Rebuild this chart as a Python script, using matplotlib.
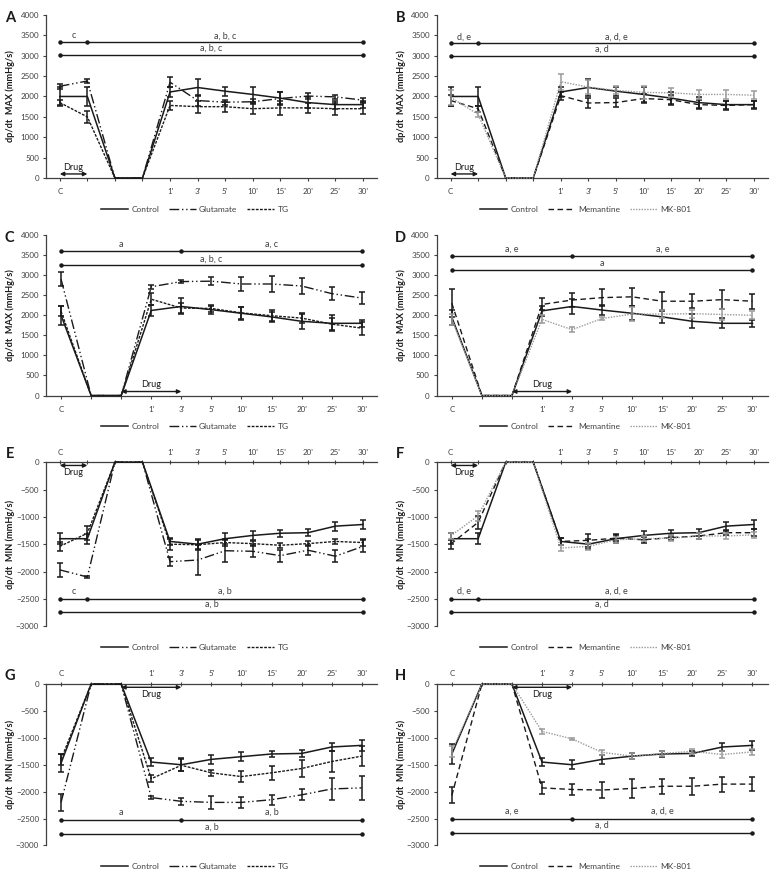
import matplotlib
matplotlib.use("Agg")
import matplotlib.pyplot as plt
import numpy as np

plt.rcParams["font.family"] = ["Lato", "DejaVu Sans"]

INK = "#1a1a1a"
GREY = "#404040"
MK_GREY = "#9a9a9a"

# category labels (long protocol: drug before ischemia, short: drug after)
LABELS_LONG = ["C", "", "", "", "1'", "3'", "5'", "10'", "15'", "20'", "25'", "30'"]
LABELS_SHORT = ["C", "", "", "1'", "3'", "5'", "10'", "15'", "20'", "25'", "30'"]

# ---- panel A : dp/dt MAX, drug before ischemia
A_control = [2000, 2000, 0, 0, 2110, 2220, 2130, 2050, 1960, 1850, 1800, 1800]
A_control_err = [230, 240, 0, 0, 130, 210, 110, 190, 150, 130, 100, 80]
A_glut = [2250, 2380, 0, 0, 2350, 1900, 1860, 1870, 1950, 2010, 1990, 1910]
A_glut_err = [60, 50, 0, 0, 130, 130, 60, 60, 150, 80, 50, 50]
A_tg = [1850, 1500, 0, 0, 1780, 1750, 1750, 1700, 1720, 1720, 1700, 1700]
A_tg_err = [70, 150, 0, 0, 120, 150, 120, 130, 170, 130, 150, 130]

# ---- panel B
B_control = [2000, 2000, 0, 0, 2110, 2220, 2130, 2050, 1960, 1850, 1800, 1800]
B_control_err = [230, 240, 0, 0, 130, 210, 110, 190, 150, 130, 100, 80]
B_mem = [1900, 1700, 0, 0, 2020, 1840, 1850, 1950, 1920, 1800, 1780, 1800]
B_mem_err = [130, 70, 0, 0, 100, 130, 110, 120, 120, 110, 110, 100]
B_mk = [1980, 1560, 0, 0, 2360, 2230, 2150, 2100, 2090, 2050, 2050, 2030]
B_mk_err = [180, 60, 0, 0, 200, 180, 100, 150, 110, 110, 110, 100]

# ---- panel C : dp/dt MAX, drug after ischemia
C_control = [2000, 0, 0, 2120, 2220, 2140, 2050, 1960, 1850, 1800, 1800]
C_control_err = [230, 0, 0, 130, 200, 100, 160, 130, 180, 200, 80]
C_glut = [2900, 0, 0, 2710, 2840, 2850, 2780, 2780, 2730, 2540, 2430]
C_glut_err = [170, 0, 0, 50, 40, 100, 170, 200, 190, 170, 150]
C_tg = [2100, 0, 0, 2400, 2180, 2170, 2060, 1990, 1930, 1780, 1680]
C_tg_err = [130, 0, 0, 150, 120, 80, 150, 130, 130, 150, 160]

# ---- panel D
D_control = [1950, 0, 0, 2110, 2220, 2130, 2050, 1960, 1850, 1800, 1800]
D_control_err = [180, 0, 0, 130, 180, 120, 180, 150, 170, 120, 80]
D_mem = [2300, 0, 0, 2270, 2380, 2440, 2460, 2350, 2350, 2390, 2350]
D_mem_err = [350, 0, 0, 150, 170, 220, 230, 220, 170, 240, 190]
D_mk = [1900, 0, 0, 1900, 1640, 1920, 2030, 2030, 2040, 2020, 2000]
D_mk_err = [130, 0, 0, 100, 60, 40, 170, 100, 100, 130, 100]

# ---- panel E : dp/dt MIN, drug before ischemia
E_control = [-1400, -1400, 0, 0, -1450, -1500, -1400, -1340, -1300, -1290, -1170, -1140]
E_control_err = [100, 90, 0, 0, 70, 90, 100, 80, 60, 60, 80, 90]
E_glut = [-1970, -2100, 0, 0, -1820, -1790, -1620, -1630, -1710, -1610, -1720, -1540]
E_glut_err = [130, 25, 0, 0, 80, 280, 200, 110, 110, 90, 110, 110]
E_tg = [-1540, -1300, 0, 0, -1500, -1510, -1470, -1490, -1520, -1490, -1450, -1470]
E_tg_err = [80, 130, 0, 0, 100, 90, 60, 50, 50, 50, 50, 60]

# ---- panel F
F_control = [-1400, -1400, 0, 0, -1450, -1500, -1400, -1340, -1300, -1290, -1170, -1140]
F_control_err = [100, 100, 0, 0, 70, 90, 80, 80, 60, 60, 80, 90]
F_mem = [-1500, -1100, 0, 0, -1450, -1430, -1390, -1420, -1380, -1350, -1290, -1290]
F_mem_err = [80, 120, 0, 0, 60, 120, 60, 50, 50, 60, 50, 60]
F_mk = [-1350, -980, 0, 0, -1570, -1540, -1420, -1400, -1390, -1350, -1350, -1330]
F_mk_err = [60, 90, 0, 0, 60, 60, 50, 50, 50, 50, 50, 50]

# ---- panel G : dp/dt MIN, drug after ischemia
G_control = [-1470, 0, 0, -1450, -1500, -1400, -1350, -1300, -1290, -1170, -1140]
G_control_err = [170, 0, 0, 80, 120, 80, 80, 50, 60, 80, 100]
G_glut = [-2200, 0, 0, -2110, -2180, -2200, -2200, -2150, -2060, -1950, -1930]
G_glut_err = [160, 0, 0, 30, 70, 120, 100, 90, 100, 200, 220]
G_tg = [-1400, 0, 0, -1760, -1510, -1650, -1720, -1650, -1570, -1440, -1340]
G_tg_err = [100, 0, 0, 70, 110, 60, 100, 130, 150, 190, 190]

# ---- panel H
H_control = [-1300, 0, 0, -1450, -1500, -1400, -1340, -1300, -1290, -1170, -1140]
H_control_err = [180, 0, 0, 70, 80, 90, 60, 50, 50, 80, 90]
H_mem = [-2070, 0, 0, -1930, -1960, -1970, -1940, -1900, -1900, -1860, -1860]
H_mem_err = [150, 0, 0, 110, 100, 140, 170, 140, 160, 140, 130]
H_mk = [-1250, 0, 0, -880, -1020, -1270, -1340, -1290, -1250, -1310, -1260]
H_mk_err = [100, 0, 0, 40, 15, 40, 50, 50, 50, 60, 50]

# significance brackets: (level, category indices of the dots, labels per segment)
SIG_A = [(3330, [0, 1, 11], ["c", "a, b, c"]), (3020, [0, 11], ["a, b, c"])]
SIG_B = [(3300, [0, 1, 11], ["d, e", "a, d, e"]), (3000, [0, 11], ["a, d"])]
SIG_C = [(3600, [0, 4, 10], ["a", "a, c"]), (3250, [0, 10], ["a, b, c"])]
SIG_D = [(3480, [0, 4, 10], ["a, e", "a, e"]), (3130, [0, 10], ["a"])]
SIG_E = [(-2500, [0, 1, 11], ["c", "a, b"]), (-2740, [0, 11], ["a, b"])]
SIG_F = [(-2500, [0, 1, 11], ["d, e", "a, d, e"]), (-2740, [0, 11], ["a, d"])]
SIG_G = [(-2520, [0, 4, 10], ["a", "a, b"]), (-2790, [0, 10], ["a, b"])]
SIG_H = [(-2500, [0, 4, 10], ["a, e", "a, d, e"]), (-2760, [0, 10], ["a, d"])]

STYLE = {
    "Control": dict(color=INK, ls="-", lw=1.1),
    "Glutamate": dict(color=INK, ls=(0, (7, 2, 1, 2, 1, 2)), lw=1.0),
    "TG": dict(color=INK, ls=(0, (2, 1)), lw=1.0),
    "Memantine": dict(color=INK, ls=(0, (4, 2.5)), lw=1.0),
    "MK-801": dict(color=MK_GREY, ls=(0, (1, 1)), lw=1.0),
}


def draw_panel(ax, letter, labels, series, sig, drug, kind):
    x = np.arange(len(labels))
    for vals, errs, name in series:
        st = STYLE[name]
        vals = np.asarray(vals, float)
        errs = np.asarray(errs, float)
        ax.plot(x, vals, color=st["color"], ls=st["ls"], lw=st["lw"],
                label=name, clip_on=False, zorder=3)
        m = errs > 0
        ecol = st["color"] if name == "MK-801" else INK
        ax.errorbar(x[m], vals[m], yerr=errs[m], fmt="none", ecolor=ecol,
                    elinewidth=1.1, capsize=2.4, capthick=1.1, zorder=4)

    ax.set_xlim(-0.5, len(labels) - 0.5)
    ax.set_xticks(x)
    ax.set_xticklabels(labels)
    ax.spines["right"].set_visible(False)
    if kind == "max":
        ax.set_ylim(0, 4000)
        ax.set_yticks(np.arange(0, 4001, 500))
        ax.spines["top"].set_visible(False)
        ax.set_ylabel("dp/dt  MAX (mmHg/s)", fontsize=6.6, fontweight="bold", color=INK)
        off, drug_y, drug_lab = 160, 100, 270
        ax.tick_params(axis="x", direction="out", length=2.5, pad=5)
        letter_y = 0.98
    else:
        ax.set_ylim(-3000, 0)
        ax.set_yticks(np.arange(-3000, 1, 500))
        ax.spines["bottom"].set_visible(False)
        ax.xaxis.tick_top()
        ax.set_ylabel("dp/dt  MIN (mmHg/s)", fontsize=6.6, fontweight="bold", color=INK)
        off, drug_y, drug_lab = 135, -60, -195
        ax.tick_params(axis="x", direction="inout", length=3.5, pad=3)
        letter_y = 1.05
    ax.yaxis.set_label_coords(-0.093, 0.5)
    ax.tick_params(axis="y", direction="out", length=2.5, pad=2.5)
    ax.tick_params(labelsize=5.8, labelcolor=GREY, color=GREY, width=0.8)
    for s in ("left", "top", "bottom"):
        ax.spines[s].set_color(GREY)
        ax.spines[s].set_linewidth(0.9)

    # significance lines
    for level, idx, labs in sig:
        ax.plot([idx[0], idx[-1]], [level, level], color=INK, lw=1.0, zorder=2)
        ax.plot(idx, [level] * len(idx), "o", color=INK, ms=2.2, zorder=2)
        for k, lab in enumerate(labs):
            ax.text((idx[k] + idx[k + 1]) / 2, level + off, lab, ha="center",
                    va="center", fontsize=6.5, color=GREY)

    # drug period
    x0, x1 = drug
    ax.annotate("", xy=(x1, drug_y), xytext=(x0, drug_y),
                arrowprops=dict(arrowstyle="<|-|>", color=INK, lw=1.0,
                                mutation_scale=6, shrinkA=0, shrinkB=0))
    ax.text((x0 + x1) / 2, drug_lab, "Drug", ha="center", va="center",
            fontsize=6.5, color=INK)

    ax.text(-0.11, letter_y, letter, transform=ax.transAxes, fontsize=10.5,
            fontweight="bold", ha="center", va="center", color=INK)

    leg_y = -0.19 if kind == "max" else -0.13
    ax.legend(loc="center", bbox_to_anchor=(0.45, leg_y), ncol=3, frameon=False,
              fontsize=6, labelcolor=GREY, handlelength=3.2, columnspacing=1.2,
              handletextpad=0.4)


fig = plt.figure(figsize=(7.8, 8.77), dpi=100)
LEFT_X, RIGHT_X, W = 0.059, 0.560, 0.424
rows = [(0.797, 0.186), (0.549, 0.183), (0.286, 0.187), (0.036, 0.184)]

panels = [
    ("A", LABELS_LONG, [(A_control, A_control_err, "Control"), (A_glut, A_glut_err, "Glutamate"),
                        (A_tg, A_tg_err, "TG")], SIG_A, (0, 1), "max"),
    ("B", LABELS_LONG, [(B_control, B_control_err, "Control"), (B_mem, B_mem_err, "Memantine"),
                        (B_mk, B_mk_err, "MK-801")], SIG_B, (0, 1), "max"),
    ("C", LABELS_SHORT, [(C_control, C_control_err, "Control"), (C_glut, C_glut_err, "Glutamate"),
                         (C_tg, C_tg_err, "TG")], SIG_C, (2, 4), "max"),
    ("D", LABELS_SHORT, [(D_control, D_control_err, "Control"), (D_mem, D_mem_err, "Memantine"),
                         (D_mk, D_mk_err, "MK-801")], SIG_D, (2, 4), "max"),
    ("E", LABELS_LONG, [(E_control, E_control_err, "Control"), (E_glut, E_glut_err, "Glutamate"),
                        (E_tg, E_tg_err, "TG")], SIG_E, (0, 1), "min"),
    ("F", LABELS_LONG, [(F_control, F_control_err, "Control"), (F_mem, F_mem_err, "Memantine"),
                        (F_mk, F_mk_err, "MK-801")], SIG_F, (0, 1), "min"),
    ("G", LABELS_SHORT, [(G_control, G_control_err, "Control"), (G_glut, G_glut_err, "Glutamate"),
                         (G_tg, G_tg_err, "TG")], SIG_G, (2, 4), "min"),
    ("H", LABELS_SHORT, [(H_control, H_control_err, "Control"), (H_mem, H_mem_err, "Memantine"),
                         (H_mk, H_mk_err, "MK-801")], SIG_H, (2, 4), "min"),
]

for i, (letter, labels, series, sig, drug, kind) in enumerate(panels):
    bottom, height = rows[i // 2]
    left = LEFT_X if i % 2 == 0 else RIGHT_X
    ax = fig.add_axes([left, bottom, W, height])
    draw_panel(ax, letter, labels, series, sig, drug, kind)

fig.savefig("out.png", dpi=100)
